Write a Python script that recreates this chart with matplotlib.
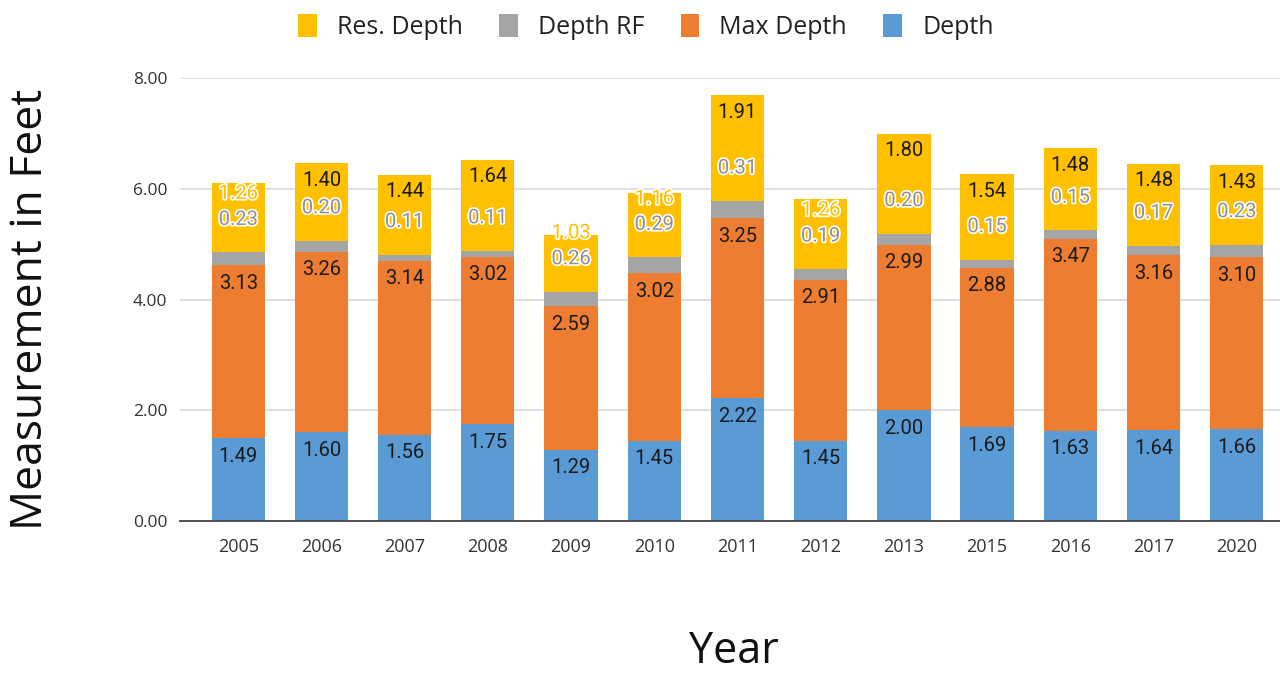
import numpy as np
import matplotlib
matplotlib.use('Agg')
import matplotlib.pyplot as plt
import matplotlib.patheffects as pe

years = ['2005', '2006', '2007', '2008', '2009', '2010', '2011',
         '2012', '2013', '2015', '2016', '2017', '2020']
depth = [1.49, 1.60, 1.56, 1.75, 1.29, 1.45, 2.22, 1.45, 2.00, 1.69, 1.63, 1.64, 1.66]
max_depth = [3.13, 3.26, 3.14, 3.02, 2.59, 3.02, 3.25, 2.91, 2.99, 2.88, 3.47, 3.16, 3.10]
depth_rf = [0.23, 0.20, 0.11, 0.11, 0.26, 0.29, 0.31, 0.19, 0.20, 0.15, 0.15, 0.17, 0.23]
res_depth = [1.26, 1.40, 1.44, 1.64, 1.03, 1.16, 1.91, 1.26, 1.80, 1.54, 1.48, 1.48, 1.43]

c_depth = '#5B9BD5'
c_max = '#ED7D31'
c_rf = '#A5A5A5'
c_res = '#FFC000'

fig = plt.figure(figsize=(12.8, 6.73), dpi=100)
ax = fig.add_axes([180/1280, 1-521/673, 1100/1280, 443/673])

x = np.arange(len(years))
width = 0.64
d = np.array(depth)
m = np.array(max_depth)
r = np.array(depth_rf)
s = np.array(res_depth)

b1 = ax.bar(x, d, width, color=c_depth, label='Depth', zorder=2)
b2 = ax.bar(x, m, width, bottom=d, color=c_max, label='Max Depth', zorder=2)
b3 = ax.bar(x, r, width, bottom=d+m, color=c_rf, label='Depth RF', zorder=2)
b4 = ax.bar(x, s, width, bottom=d+m+r, color=c_res, label='Res. Depth', zorder=2)

ax.set_xlim(-0.70, 12.52)
ax.set_ylim(0, 8)
ax.set_yticks([0, 2, 4, 6, 8])
ax.set_yticklabels(['%.2f' % v for v in [0, 2, 4, 6, 8]])
ax.set_xticks(x)
ax.set_xticklabels(years)
ax.grid(axis='y', color='#D9D9D9', linewidth=1.2, zorder=0)
ax.set_axisbelow(True)
for sp in ['top', 'right', 'left']:
    ax.spines[sp].set_visible(False)
ax.spines['bottom'].set_color('#444444')
ax.spines['bottom'].set_linewidth(1.3)
ax.tick_params(axis='y', length=0, labelsize=12.5, labelcolor='#333333', pad=9)
ax.tick_params(axis='x', length=0, labelsize=13, labelcolor='#333333', pad=12)
for t in ax.get_xticklabels() + ax.get_yticklabels():
    t.set_fontfamily('Open Sans')

fig.text(31/1280, 1-309/673, 'Measurement in Feet', rotation=90, fontsize=32,
         family='Open Sans', ha='center', va='center', color='#111111')
fig.text(734/1280, 1-652/673, 'Year', fontsize=31, family='Open Sans',
         ha='center', va='center', color='#111111')

handles = [b4, b3, b2, b1]
fig.legend(handles, [h.get_label() for h in handles], loc='center',
           bbox_to_anchor=(646/1280, 1-27/673), ncol=4, frameon=False,
           prop={'family': 'Open Sans', 'size': 18}, handlelength=0.75,
           handleheight=1.0, handletextpad=0.8, columnspacing=1.45,
           labelcolor='#222222')

# data labels, offsets in pixels converted to points
px = 0.72
lab_font = dict(family='Roboto', fontsize=14.5, ha='center', va='center')
halo = [pe.withStroke(linewidth=2.4, foreground='white')]

def ypix(v):
    return ax.transData.transform((0, v))[1]

for i in range(len(years)):
    # depth and max depth: inside end
    ax.annotate('%.2f' % d[i], (x[i], d[i]), xytext=(0, -18*px),
                textcoords='offset points', color='#1a1a1a', **lab_font)
    ax.annotate('%.2f' % m[i], (x[i], d[i]+m[i]), xytext=(0, -18*px),
                textcoords='offset points', color='#1a1a1a', **lab_font)
    rf_top = d[i] + m[i] + r[i]
    top = rf_top + s[i]
    rf_lab = ypix(rf_top) + 33
    res_lab = ypix(top) - 17
    ax.annotate('%.2f' % r[i], (x[i], rf_top), xytext=(0, 33*px),
                textcoords='offset points', color='#909090', path_effects=halo,
                **lab_font)
    if res_lab - rf_lab < 26:
        off = rf_lab + 26 - ypix(top)
        ax.annotate('%.2f' % s[i], (x[i], top), xytext=(0, off*px),
                    textcoords='offset points', color=c_res,
                    path_effects=halo, **lab_font)
    else:
        ax.annotate('%.2f' % s[i], (x[i], top), xytext=(0, -17*px),
                    textcoords='offset points', color='#1a1a1a', **lab_font)

fig.savefig('out.png', dpi=100)
